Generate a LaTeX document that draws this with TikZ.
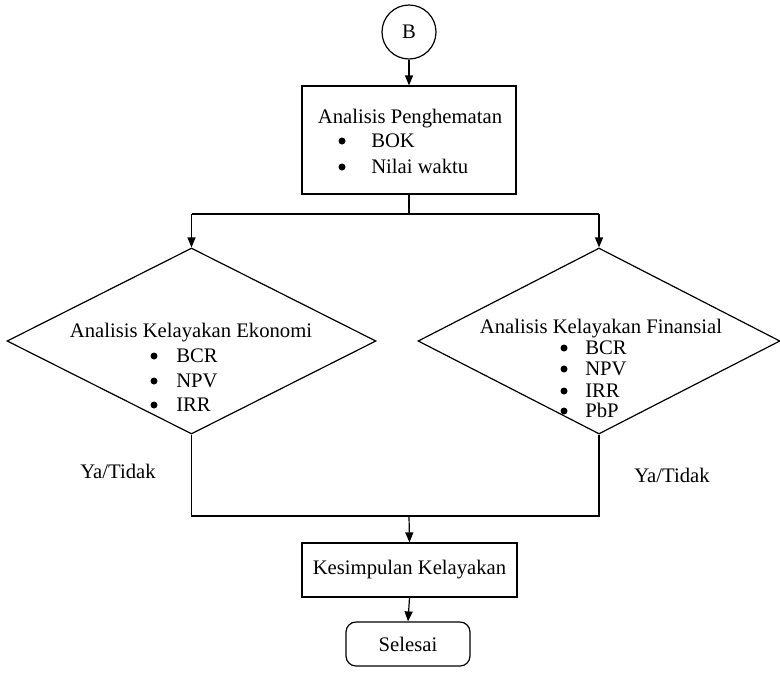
\documentclass[tikz,border=0pt]{standalone}
\usepackage{fontspec}
\setmainfont{Liberation Serif}
\usetikzlibrary{shapes.geometric,arrows.meta}
\newcommand{\pxu}{0.75pt}
\begin{document}
\begin{tikzpicture}[x=0.75pt,y=-0.75pt,
  every node/.style={font=\fontsize{15.5}{18}\selectfont, inner sep=0pt},
  line/.style={line width=0.9pt, black},
  arr/.style={line, -{Triangle[length=7.5pt,width=6pt]}},
  boxnode/.style={draw, line width=0.9pt, rectangle},
  dia/.style={draw, line width=0.9pt, diamond},
  txt/.style={anchor=base},
  itm/.style={anchor=base west},
  bul/.style={circle, fill=black, minimum size=7*\pxu, inner sep=0pt}]
\useasboundingbox (0,0) rectangle (780,676);
% start connector
\node[draw, line width=0.9pt, circle, minimum size=54*\pxu] (B) at (409,32) {B};
% savings analysis box
\node[boxnode, minimum width=214*\pxu, minimum height=108*\pxu] (pen) at (409,140) {};
\node[txt] (pt) at (410,123) {Analisis Penghematan};
\node[bul] (pb1) at (342,141) {};
\node[itm] (pi1) at (371,147) {BOK};
\node[bul] (pb2) at (342,167) {};
\node[itm] (pi2) at (371,173) {Nilai waktu};
% economic diamond
\node[dia, minimum width=369*\pxu, minimum height=186*\pxu] (eco) at (191.5,341) {};
\node[txt] (et) at (191,337) {Analisis Kelayakan Ekonomi};
\node[bul] (eb1) at (154,356) {}; \node[itm] (ei1) at (176,362) {BCR};
\node[bul] (eb2) at (154,381) {}; \node[itm] (ei2) at (176,387) {NPV};
\node[bul] (eb3) at (154,405) {}; \node[itm] (ei3) at (176,411) {IRR};
% financial diamond
\node[dia, minimum width=362*\pxu, minimum height=186*\pxu] (fin) at (599,341) {};
\node[txt] (ft) at (601,333) {Analisis Kelayakan Finansial};
\node[bul] (fb1) at (564,348) {}; \node[itm] (fi1) at (585,354) {BCR};
\node[bul] (fb2) at (564,369) {}; \node[itm] (fi2) at (585,375) {NPV};
\node[bul] (fb3) at (564,391) {}; \node[itm] (fi3) at (585,397) {IRR};
\node[bul] (fb4) at (564,411) {}; \node[itm] (fi4) at (585,417) {PbP};
% labels
\node[txt] (ya1) at (118,478) {Ya/Tidak};
\node[txt] (ya2) at (672,482) {Ya/Tidak};
% conclusion and end
\node[boxnode, minimum width=215*\pxu, minimum height=54*\pxu] (kes) at (409.5,570) {Kesimpulan Kelayakan};
\node[draw, line width=0.9pt, rounded corners=7.5pt, minimum width=124*\pxu, minimum height=44*\pxu] (sel) at (408,644) {Selesai};
% connectors
\coordinate (s1) at (409,214);
\coordinate (j1) at (409,516);
\draw[arr] (B.south) -- (pen.north);
\draw[line] (pen.south) -- (s1);
\draw[line] (eco.north |- s1) -- (fin.north |- s1);
\draw[arr] (eco.north |- s1) -- (eco.north);
\draw[arr] (fin.north |- s1) -- (fin.north);
\draw[line] (eco.south) -- (eco.south |- j1) -- (fin.south |- j1) -- (fin.south);
\draw[arr] (j1) -- (kes.north);
\draw[arr] (kes.south) -- (sel.north);
\end{tikzpicture}
\end{document}
